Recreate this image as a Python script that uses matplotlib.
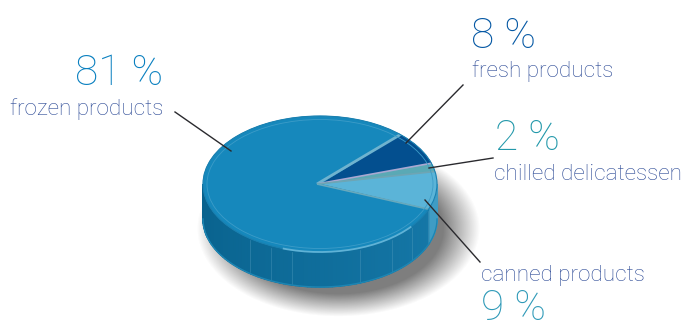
import numpy as np
import matplotlib
matplotlib.use('Agg')
import matplotlib.pyplot as plt
from matplotlib.patches import Wedge, Polygon, Ellipse, Arc
from matplotlib.transforms import Affine2D

categories = ['fresh products', 'chilled delicatessen', 'canned products', 'frozen products']
shares = [8, 2, 9, 81]
share_labels = ['8 %', '2 %', '9 %', '81 %']
wedge_colors = ['#034f8f', '#5aa9b5', '#5bb4d8', '#1688bc']
number_colors = ['#0558a4', '#2298aa', '#2f9ab8', '#0a80c0']
name_color = '#2c4a96'

# where the pie sits, in pixels
cx, cy, rx, ry = 320, 184, 117, 68
depth = 35
start = 46.6

plt.rcParams['font.family'] = ['Roboto', 'DejaVu Sans']

fig = plt.figure(figsize=(6.86, 3.21), dpi=100)
ax = fig.add_axes([0, 0, 1, 1])
ax.axis('off')

# soft shadow under the pie
xx, yy = np.meshgrid(np.arange(686), np.arange(321))
d = np.sqrt(((xx - 338) / 122.0) ** 2 + ((yy - 228) / 76.0) ** 2)
alpha = np.clip((1.16 - d) / 0.30, 0, 1) * 0.72
shadow = np.zeros((321, 686, 4))
shadow[..., :3] = 0.3
shadow[..., 3] = alpha
ax.imshow(shadow, extent=[0, 686, 321, 0], aspect='auto', zorder=1)
ax.set_xlim(0, 686)
ax.set_ylim(321, 0)

unit = Affine2D().scale(rx, -ry).translate(cx, cy) + ax.transData

# side wall, slice by slice so the colour can drift left to right
edges = np.linspace(180, 360, 91)
for a0, a1 in zip(edges[:-1], edges[1:]):
    t = np.radians([a0, a1])
    x = cx + rx * np.cos(t)
    y = cy - ry * np.sin(t)
    frac = (a0 - 180) / 180
    col = (0.03 + 0.06 * frac, 0.38 + 0.10 * frac, 0.55 + 0.12 * frac)
    if a0 > 338:
        col = '#3f9cc4'
    pts = [(x[0], y[0]), (x[1], y[1]), (x[1], y[1] + depth), (x[0], y[0] + depth)]
    ax.add_patch(Polygon(pts, closed=True, fc=col, ec=col, lw=1.0, zorder=2))

# faint seams on the wall
for a in [233, 245, 256, 290, 308, 322, 338]:
    t = np.radians(a)
    x = cx + rx * np.cos(t)
    y = cy - ry * np.sin(t)
    ax.plot([x, x], [y + 2, y + depth - 1], color='#5fa6c6', lw=0.5, alpha=0.45, zorder=3)

# lighter lip along the foot of the wall
t = np.radians(np.linspace(180, 360, 120))
ax.plot(cx + rx * np.cos(t), cy - ry * np.sin(t) + depth, color='#1c86b4', lw=1.0, zorder=3)

# top of the pie
bounds = start - np.cumsum([0] + shares) * 3.6
for i, c in enumerate(wedge_colors):
    ax.add_patch(Wedge((0, 0), 1, bounds[i + 1], bounds[i], fc=c, ec=c, lw=0.3,
                       transform=unit, zorder=4))

# light bands on the slice edges
for a, w, col in [(bounds[0], 2.0, '#6fb3cf'), (bounds[1], 1.2, '#a9a8d2'),
                  (bounds[2], 1.2, '#6ea5b4'), (bounds[3], 1.2, '#67a9bd')]:
    t = np.radians(a)
    ax.plot([cx - 3, cx + rx * np.cos(t)], [cy, cy - ry * np.sin(t)], color=col, lw=w,
            solid_capstyle='butt', zorder=5)

# rim highlights
ax.add_patch(Arc((cx, cy), 2 * rx - 8, 2 * ry - 7, theta1=0, theta2=360, ec='#3c9cc8',
                 lw=0.6, zorder=5))
ax.add_patch(Ellipse((cx, cy), 2 * rx, 2 * ry, fc='none', ec='#1a80b0', lw=0.8, zorder=5))
ax.add_patch(Arc((cx, cy), 2 * rx, 2 * ry, theta1=25, theta2=120, ec='#5fb2d6',
                 lw=1.3, zorder=5))

# leader lines
leaders = [((463, 85), (406, 143)), ((493, 158), (429, 168)),
           ((480, 262), (425, 200)), ((175, 112), (231, 151))]
for p, q in leaders:
    ax.plot([p[0], q[0]], [p[1], q[1]], color='#2a2a2e', lw=1.0, zorder=6)

# labels
num = dict(fontsize=30.5, fontweight='light', va='baseline')
name = dict(color=name_color, fontsize=16.2, fontweight='light', va='baseline')
ax.text(471, 48, share_labels[0], color=number_colors[0], **num)
ax.text(472, 77, categories[0], **name)
ax.text(495, 150, share_labels[1], color=number_colors[1], **num)
ax.text(494, 180, categories[1], **name)
ax.text(481, 281, categories[2], **name)
ax.text(481, 320, share_labels[2], color=number_colors[2], **num)
ax.text(163, 85, share_labels[3], color=number_colors[3], ha='right', **num)
ax.text(163, 115, categories[3], ha='right', **name)

fig.savefig('out.png', dpi=100)
